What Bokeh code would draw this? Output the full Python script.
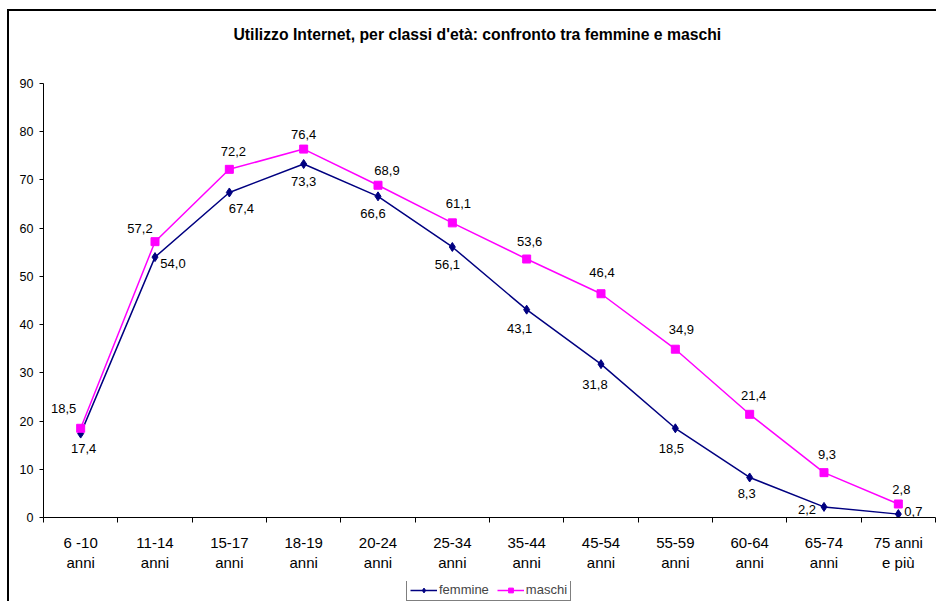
from bokeh.plotting import figure
from bokeh.layouts import column
from bokeh.models import (ColumnDataSource, FixedTicker, Range1d, Legend, LegendItem, Title)
from bokeh.core.properties import value
from bokeh.embed import file_html
from bokeh.resources import INLINE

# ---- data ----
categories = ["6 -10\nanni", "11-14\nanni", "15-17\nanni", "18-19\nanni", "20-24\nanni",
              "25-34\nanni", "35-44\nanni", "45-54\nanni", "55-59\nanni", "60-64\nanni",
              "65-74\nanni", "75 anni\ne più"]
femmine = [17.4, 54.0, 67.4, 73.3, 66.6, 56.1, 43.1, 31.8, 18.5, 8.3, 2.2, 0.7]
maschi = [18.5, 57.2, 72.2, 76.4, 68.9, 61.1, 53.6, 46.4, 34.9, 21.4, 9.3, 2.8]
y_ticks = [0, 10, 20, 30, 40, 50, 60, 70, 80, 90]

# label offsets in screen pixels (style only)
fem_dx = [3, 18, 12, 0, -5, -5, -7, -6, -4, -3, -17, 15]
fem_dy = [15, 6, 16, 17, 17, 18, 19, 20, 20, 16, 3, -3]
mas_dx = [-17, -15, 4, 0, 9, 6, 3, 1, 6, 4, 3, 3]
mas_dy = [-20, -13, -18, -15, -15, -19, -18, -21, -20, -19, -18, -14]

FONT = "Liberation Sans"
NAVY = "#000080"
MAG = "#FF00FF"
xs = [i + 0.5 for i in range(len(categories))]

def fmt(v):
    return ("%.1f" % v).replace(".", ",")

src_f = ColumnDataSource(dict(x=xs, y=femmine, lab=[fmt(v) for v in femmine], dx=fem_dx, dy=fem_dy))
src_m = ColumnDataSource(dict(x=xs, y=maschi, lab=[fmt(v) for v in maschi], dx=mas_dx, dy=mas_dy))

W = 927
p = figure(width=W, height=570, output_backend="svg", toolbar_location=None,
           x_range=Range1d(0, len(categories)), y_range=Range1d(0, 90),
           min_border_left=34, min_border_right=1, min_border_top=72, min_border_bottom=64)

# spacer between title and frame
p.add_layout(Title(text=" ", text_font_size="10px", standoff=16), "above")

p.title.text = "Utilizzo Internet, per classi d'età: confronto tra femmine e maschi"
p.title.align = "left"
p.title.offset = 190
p.title.text_font = FONT
p.title.text_font_size = "15.75px"
p.title.text_font_style = "bold"
p.title.text_color = "black"
p.title.standoff = 24

p.xgrid.visible = False
p.ygrid.visible = False
p.outline_line_color = None
p.background_fill_color = "white"

# x axis
p.xaxis.ticker = FixedTicker(ticks=xs, minor_ticks=list(range(len(categories) + 1)))
p.xaxis.major_label_overrides = {x: c for x, c in zip(xs, categories)}
p.xaxis.major_tick_out = 0
p.xaxis.major_tick_in = 0
p.xaxis.minor_tick_out = 5
p.xaxis.minor_tick_in = 0
p.xaxis.major_label_standoff = 11
p.xaxis.major_label_text_font = FONT
p.xaxis.major_label_text_font_size = "15px"
p.xaxis.major_label_text_color = "black"
p.xaxis.major_label_text_line_height = 1.22
p.xaxis.axis_line_color = "black"
p.xaxis.minor_tick_line_color = "black"

# y axis
p.yaxis.ticker = FixedTicker(ticks=y_ticks)
p.yaxis.major_tick_out = 4
p.yaxis.major_tick_in = 0
p.yaxis.minor_tick_line_color = None
p.yaxis.major_label_standoff = 6
p.yaxis.major_label_text_font = FONT
p.yaxis.major_label_text_font_size = "12.5px"
p.yaxis.major_label_text_color = "black"
p.yaxis.axis_line_color = "black"
p.yaxis.major_tick_line_color = "black"

p.line("x", "y", source=src_f, line_color=NAVY, line_width=1.5)
p.scatter("x", "y", source=src_f, marker="diamond", size=9, fill_color=NAVY, line_color=NAVY)
p.line("x", "y", source=src_m, line_color=MAG, line_width=1.5)
p.scatter("x", "y", source=src_m, marker="square", size=8, fill_color=MAG, line_color=MAG)

p.text("x", "y", text="lab", source=src_f, x_offset="dx", y_offset="dy",
       text_font=value(FONT), text_font_size="13px", text_align="center",
       text_baseline="middle", text_color="black")
p.text("x", "y", text="lab", source=src_m, x_offset="dx", y_offset="dy",
       text_font=value(FONT), text_font_size="13px", text_align="center",
       text_baseline="middle", text_color="black")

# legend strip: small figure showing the same series, whose ranges keep the
# series themselves out of view so only the legend is visible
p2 = figure(width=W, height=20, output_backend="svg", toolbar_location=None,
            x_axis_type=None, y_axis_type=None, min_border=0,
            x_range=Range1d(0, len(categories)), y_range=Range1d(1000, 1001))
p2.outline_line_color = None
p2.xgrid.visible = False
p2.ygrid.visible = False
lf = p2.line("x", "y", source=src_f, line_color=NAVY, line_width=1.5)
mf = p2.scatter("x", "y", source=src_f, marker="diamond", size=9, fill_color=NAVY, line_color=NAVY)
lm = p2.line("x", "y", source=src_m, line_color=MAG, line_width=1.5)
mm = p2.scatter("x", "y", source=src_m, marker="square", size=8, fill_color=MAG, line_color=MAG)

legend = Legend(items=[LegendItem(label="femmine", renderers=[lf, mf]),
                       LegendItem(label="maschi", renderers=[lm, mm])],
                orientation="horizontal", location=(363, 0),
                label_text_font=FONT, label_text_font_size="13px",
                glyph_width=27, glyph_height=12, label_standoff=2, spacing=8,
                padding=3, margin=0, border_line_color="black", border_line_width=1,
                label_height=12, background_fill_alpha=1)
p2.add_layout(legend, "center")

layout = column(p, p2, spacing=0,
                styles={"margin-left": "7px", "margin-top": "9px",
                        "border-left": "2px solid black", "border-top": "2px solid black"})

open("out.html", "w").write(file_html(layout, INLINE))
